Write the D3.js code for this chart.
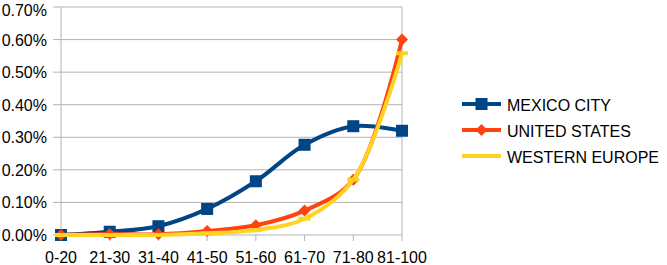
<!DOCTYPE html>
<html>
<head>
<meta charset="utf-8">
<script src="https://cdn.jsdelivr.net/npm/d3@7"></script>
<style>
  body { margin: 0; background: #fff; }
  text { font-family: "Liberation Sans", Arial, sans-serif; }
</style>
</head>
<body>
<div id="chart"></div>
<script>
// Age groups and share of population (%)
const categories = ["0-20", "21-30", "31-40", "41-50", "51-60", "61-70", "71-80", "81-100"];
const mexicoCity = [0.000, 0.010, 0.027, 0.080, 0.165, 0.277, 0.334, 0.320];
const unitedStates = [0.000, 0.003, 0.002, 0.012, 0.030, 0.075, 0.170, 0.600];
const westernEurope = [0.000, 0.000, 0.000, 0.005, 0.015, 0.050, 0.170, 0.558];
const yTicks = [0, 0.1, 0.2, 0.3, 0.4, 0.5, 0.6, 0.7];

const series = [
    { name: "MEXICO CITY", values: mexicoCity, color: "#004586", marker: "square" },
    { name: "UNITED STATES", values: unitedStates, color: "#ff420e", marker: "diamond" },
    { name: "WESTERN EUROPE", values: westernEurope, color: "#ffd320", marker: "dash" }
];

const width = 667;
const height = 265;
const plotLeft = 61, plotRight = 402, plotTop = 7, plotBottom = 235;

const svg = d3.select("#chart")
    .append("svg")
    .attr("width", width)
    .attr("height", height);

const x = d3.scalePoint().domain(categories).range([plotLeft, plotRight]);
const y = d3.scaleLinear().domain([0, 0.7]).range([plotBottom, plotTop]);

// Gridlines + y labels
svg.selectAll(".grid")
    .data(yTicks)
    .enter()
    .append("line")
    .attr("x1", plotLeft - 8)
    .attr("x2", plotRight)
    .attr("y1", d => y(d))
    .attr("y2", d => y(d))
    .attr("stroke", "#b3b3b3")
    .attr("stroke-width", 1);

svg.selectAll(".ylab")
    .data(yTicks)
    .enter()
    .append("text")
    .attr("x", 47)
    .attr("y", d => Math.max(y(d) + 6, 16))
    .attr("text-anchor", "end")
    .style("font-size", "16px")
    .text(d => d.toFixed(2) + "%");

// Axis lines
svg.append("line")
    .attr("x1", plotLeft).attr("x2", plotLeft)
    .attr("y1", plotTop).attr("y2", plotBottom)
    .attr("stroke", "#b3b3b3");
svg.append("line")
    .attr("x1", plotRight).attr("x2", plotRight)
    .attr("y1", plotTop).attr("y2", plotBottom)
    .attr("stroke", "#b3b3b3");

// X ticks and labels
svg.selectAll(".xtick")
    .data(categories)
    .enter()
    .append("line")
    .attr("x1", d => x(d)).attr("x2", d => x(d))
    .attr("y1", plotBottom).attr("y2", plotBottom + 6)
    .attr("stroke", "#b3b3b3");

svg.selectAll(".xlab")
    .data(categories)
    .enter()
    .append("text")
    .attr("x", d => x(d))
    .attr("y", 263)
    .attr("text-anchor", "middle")
    .style("font-size", "16px")
    .text(d => d);

const line = d3.line()
    .x((d, i) => x(categories[i]))
    .y(d => y(d))
    .curve(d3.curveCatmullRom.alpha(0.5));

function drawMarker(g, type, color, cx, cy) {
    if (type === "square") {
        g.append("rect")
            .attr("x", cx - 6).attr("y", cy - 6)
            .attr("width", 12).attr("height", 12)
            .attr("fill", color);
    } else if (type === "diamond") {
        g.append("path")
            .attr("d", `M${cx},${cy - 6}L${cx + 6},${cy}L${cx},${cy + 6}L${cx - 6},${cy}Z`)
            .attr("fill", color);
    } else {
        g.append("rect")
            .attr("x", cx - 6).attr("y", cy - 2)
            .attr("width", 12).attr("height", 4)
            .attr("fill", color);
    }
}

// Mexico first, Western Europe on top
series.forEach(s => {
    const g = svg.append("g");
    g.append("path")
        .attr("d", line(s.values))
        .attr("fill", "none")
        .attr("stroke", s.color)
        .attr("stroke-width", 4);
    s.values.forEach((v, i) => drawMarker(g, s.marker, s.color, x(categories[i]), y(v)));
});

// Legend
const legend = svg.append("g");
series.forEach((s, i) => {
    const ly = 104 + i * 26;
    legend.append("line")
        .attr("x1", 462).attr("x2", 501)
        .attr("y1", ly).attr("y2", ly)
        .attr("stroke", s.color)
        .attr("stroke-width", 4);
    if (s.marker !== "dash") drawMarker(legend, s.marker, s.color, 481.5, ly);
    legend.append("text")
        .attr("x", 507)
        .attr("y", ly + 7)
        .style("font-size", "16px")
        .text(s.name);
});
</script>
</body>
</html>
